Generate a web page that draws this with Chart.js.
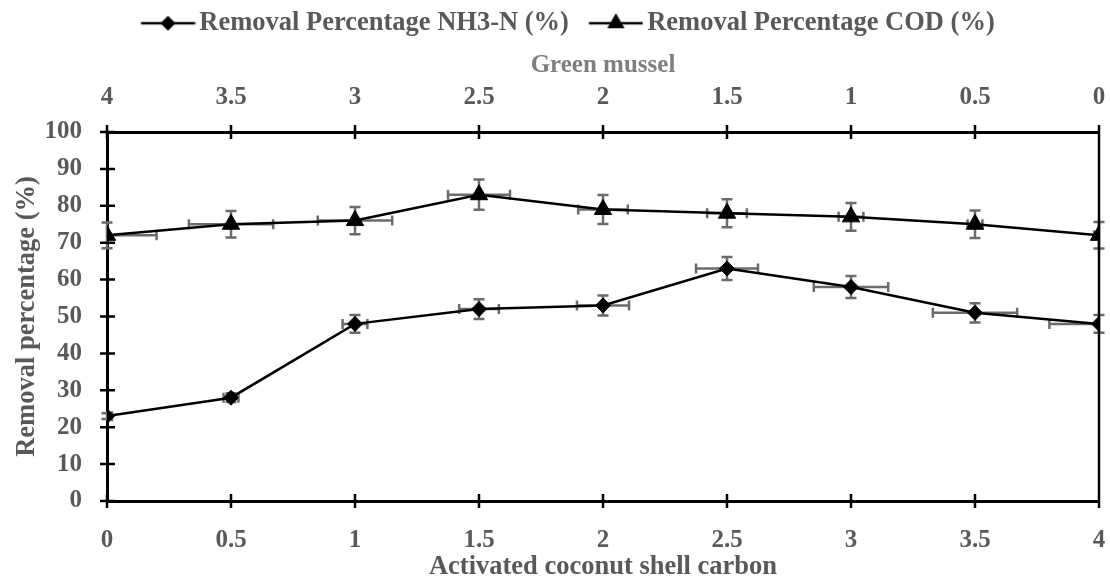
<!DOCTYPE html>
<html>
<head>
<meta charset="utf-8">
<script src="https://cdn.jsdelivr.net/npm/chart.js@4.4.1/dist/chart.umd.min.js"></script>
<style>
  html, body { margin: 0; padding: 0; background: #fff; overflow: hidden; }
  #wrap { width: 1110px; height: 581px; position: relative; }
  #chartCanvas { display: block; }
</style>
</head>
<body>
<div id="wrap"><canvas id="chartCanvas"></canvas></div>
<script>
// --- values ---
const carbonDose = [0, 0.5, 1, 1.5, 2, 2.5, 3, 3.5, 4];       // bottom axis
const musselDose = [4, 3.5, 3, 2.5, 2, 1.5, 1, 0.5, 0];       // top axis (reads right to left)
const yTicks = [0, 10, 20, 30, 40, 50, 60, 70, 80, 90, 100];

const nh3Removal = [23, 28, 48, 52, 53, 63, 58, 51, 48];
const nh3ErrY    = [0.8, 1.2, 2.4, 2.7, 2.7, 3.1, 3, 2.6, 2.4];
const nh3ErrX    = [0.02, 0.03, 0.05, 0.08, 0.105, 0.125, 0.15, 0.17, 0.2];

const codRemoval = [72, 75, 76, 83, 79, 78, 77, 75, 72];
const codErrY    = [3.5, 3.6, 3.7, 4.1, 3.9, 3.8, 3.75, 3.75, 3.6];
const codErrX    = [0.2, 0.17, 0.15, 0.125, 0.1, 0.08, 0.05, 0.03, 0.02];

const GREY = "#595959";
const FONT = "'Liberation Serif', 'Times New Roman', serif";

// legend icon: line with the marker in the middle (Excel style).
// pointStyleWidth is 55, image is 74 wide and centred on the box,
// so the line runs from box+10 to box+64
function legendIcon(shape) {
  const c = document.createElement("canvas");
  c.width = 74; c.height = 22;
  const g = c.getContext("2d");
  g.strokeStyle = "#000"; g.lineWidth = 2.5;
  g.beginPath(); g.moveTo(19.5, 11); g.lineTo(73.5, 11); g.stroke();
  g.fillStyle = "#000";
  g.beginPath();
  if (shape === "diamond") {
    g.moveTo(46.5, 3.5); g.lineTo(54, 11); g.lineTo(46.5, 18.5); g.lineTo(39, 11);
  } else {
    g.moveTo(46.5, 1); g.lineTo(55.2, 16); g.lineTo(37.8, 16);
  }
  g.closePath(); g.fill();
  return c;
}
const legendIcons = [legendIcon("diamond"), legendIcon("triangle")];

// nudge the legend row so it sits where the original one is
const legendShift = {
  id: "legendShift",
  afterLayout(chart) {
    const L = chart.legend;
    if (!L || !L.lineWidths) return;
    const start = (L.left + 10 + L.right - L.lineWidths[0]) / 2;
    const d = 131 - start;
    L.left += d; L.right += d;
  }
};

// error bars in both directions, drawn under the lines
const errorBars = {
  id: "errorBars",
  beforeDatasetsDraw(chart) {
    const { ctx, scales: { x, y } } = chart;
    ctx.save();
    ctx.strokeStyle = "#6b6b6b";
    ctx.lineWidth = 2.5;
    chart.data.datasets.forEach(ds => {
      ds.data.forEach((p, i) => {
        const px = x.getPixelForValue(p.x);
        const py = y.getPixelForValue(p.y);
        // vertical
        const ey = ds.errY[i];
        const yTop = y.getPixelForValue(p.y + ey), yBot = y.getPixelForValue(p.y - ey);
        ctx.beginPath();
        ctx.moveTo(px, yTop); ctx.lineTo(px, yBot);
        ctx.moveTo(px - 5.5, yTop); ctx.lineTo(px + 5.5, yTop);
        ctx.moveTo(px - 5.5, yBot); ctx.lineTo(px + 5.5, yBot);
        ctx.stroke();
        // horizontal (clamped to the axis range, no cap where clamped)
        const ex = ds.errX[i];
        const lo = p.x - ex, hi = p.x + ex;
        const xl = x.getPixelForValue(Math.max(x.min, lo));
        const xr = x.getPixelForValue(Math.min(x.max, hi));
        ctx.beginPath();
        ctx.moveTo(xl, py); ctx.lineTo(xr, py);
        if (lo >= x.min) { ctx.moveTo(xl, py - 5); ctx.lineTo(xl, py + 5); }
        if (hi <= x.max) { ctx.moveTo(xr, py - 5); ctx.lineTo(xr, py + 5); }
        ctx.stroke();
      });
    });
    ctx.restore();
  }
};

// tick marks crossing the axes + right frame line
const axisMarks = {
  id: "axisMarks",
  afterDraw(chart) {
    const { ctx, chartArea: a, scales } = chart;
    ctx.save();
    ctx.strokeStyle = "#000";
    ctx.lineWidth = 2.5;
    ctx.beginPath();
    ctx.moveTo(a.right, a.top); ctx.lineTo(a.right, a.bottom);
    scales.y.ticks.forEach(t => {
      const py = scales.y.getPixelForValue(t.value);
      ctx.moveTo(a.left - 7, py); ctx.lineTo(a.left + 8, py);
    });
    scales.x.ticks.forEach(t => {
      const px = scales.x.getPixelForValue(t.value);
      ctx.moveTo(px, a.bottom - 7); ctx.lineTo(px, a.bottom + 7);
    });
    scales.x2.ticks.forEach(t => {
      const px = scales.x2.getPixelForValue(t.value);
      ctx.moveTo(px, a.top - 7); ctx.lineTo(px, a.top + 7);
    });
    ctx.stroke();
    ctx.restore();
  }
};

const canvas = document.getElementById("chartCanvas");
const plain = v => String(v);

new Chart(canvas, {
  type: "line",
  data: {
    datasets: [
      {
        label: "Removal Percentage NH3-N (%)",
        data: carbonDose.map((v, i) => ({ x: v, y: nh3Removal[i] })),
        errY: nh3ErrY, errX: nh3ErrX,
        borderColor: "#000", backgroundColor: "#000",
        borderWidth: 2.5,
        pointStyle: "rectRot", pointRadius: 7.5, pointBorderWidth: 1,
        xAxisID: "x", yAxisID: "y"
      },
      {
        label: "Removal Percentage COD (%)",
        data: carbonDose.map((v, i) => ({ x: v, y: codRemoval[i] })),
        errY: codErrY, errX: codErrX,
        borderColor: "#000", backgroundColor: "#000",
        borderWidth: 2.5,
        pointStyle: "triangle", pointRadius: 10, pointBorderWidth: 1,
        xAxisID: "x", yAxisID: "y"
      }
    ]
  },
  options: {
    responsive: true,
    maintainAspectRatio: false,
    animation: false,
    events: [],
    layout: { padding: { top: 0, left: 0, right: 8, bottom: 0 } },
    plugins: {
      tooltip: { enabled: false },
      legend: {
        position: "top",
        labels: {
          usePointStyle: true,
          pointStyleWidth: 55,
          padding: 10,
          color: GREY,
          font: { family: FONT, size: 26.5, weight: "bold" },
          generateLabels(chart) {
            const items = Chart.defaults.plugins.legend.labels.generateLabels(chart);
            items.forEach((it, i) => { it.pointStyle = legendIcons[i]; });
            return items;
          }
        }
      }
    },
    scales: {
      x: {
        type: "linear", position: "bottom", min: 0, max: 4,
        afterBuildTicks: s => { s.ticks = carbonDose.map(v => ({ value: v })); },
        afterFit: s => { s.height = 80; },
        grid: { display: false, drawTicks: true, tickLength: 25 },
        border: { display: true, color: "#000", width: 3 },
        ticks: { color: GREY, padding: 0, callback: plain, font: { family: FONT, size: 25, weight: "bold" } },
        title: { display: true, text: "Activated coconut shell carbon", color: GREY,
                 padding: { top: 0, bottom: -2 }, font: { family: FONT, size: 26.5, weight: "bold" } }
      },
      x2: {
        type: "linear", position: "top", min: 0, max: 4, reverse: true,
        afterBuildTicks: s => { s.ticks = musselDose.map(v => ({ value: v })); },
        afterFit: s => { s.height = 132 - (s.chart.legend ? s.chart.legend.height : 47); },
        grid: { display: false, drawTicks: true, tickLength: 19 },
        border: { display: true, color: "#000", width: 3 },
        ticks: { color: GREY, padding: 0, callback: plain, font: { family: FONT, size: 25, weight: "bold" } },
        title: { display: true, text: "Green mussel", color: "#7f7f7f",
                 padding: { top: 4.5, bottom: 0 }, font: { family: FONT, size: 25, weight: "bold" } }
      },
      y: {
        type: "linear", position: "left", min: 0, max: 100,
        afterBuildTicks: s => { s.ticks = yTicks.map(v => ({ value: v })); },
        afterFit: s => { s.width = 107; },
        grid: { display: false, drawTicks: false },
        border: { display: true, color: "#000", width: 3 },
        ticks: { color: GREY, padding: 25, font: { family: FONT, size: 25, weight: "bold" } },
        title: { display: true, text: "Removal percentage (%)", color: GREY,
                 padding: { top: 11, bottom: 0 }, font: { family: FONT, size: 26.5, weight: "bold" } }
      }
    }
  },
  plugins: [errorBars, axisMarks, legendShift]
});
</script>
</body>
</html>
